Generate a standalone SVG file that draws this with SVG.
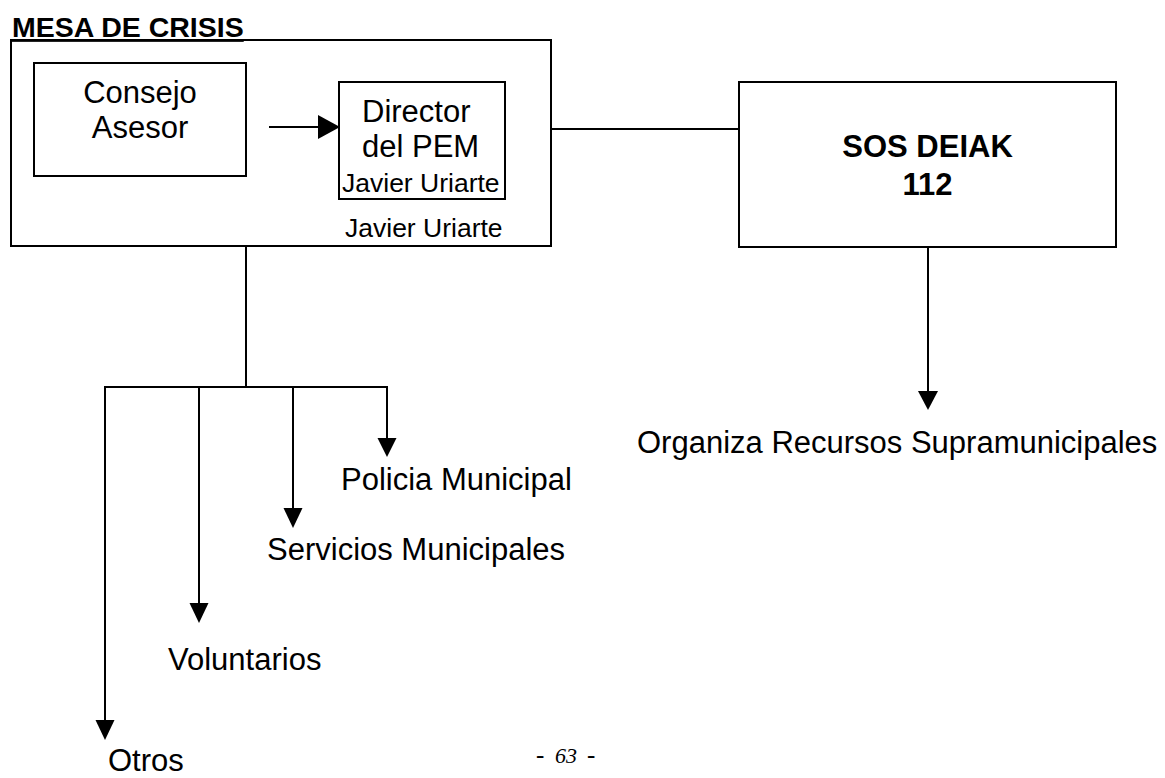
<svg xmlns="http://www.w3.org/2000/svg" width="1165" height="778" viewBox="0 0 1165 778">
<style>
.box{fill:none;stroke:#000;stroke-width:2}
.ln{fill:none;stroke:#000;stroke-width:2}
.t{font-family:"Liberation Sans",Arial,sans-serif;font-size:31px;fill:#000}
.s{font-family:"Liberation Sans",Arial,sans-serif;font-size:26.5px;fill:#000}
.b{font-family:"Liberation Sans",Arial,sans-serif;font-size:31px;font-weight:bold;fill:#000}
.ah{fill:#000;stroke:none}
.pg{font-family:"Liberation Serif","Times New Roman",serif;fill:#000}
</style>
<rect width="1165" height="778" fill="#fff"/>
<g id="mesa">
<rect class="box" x="11" y="40" width="540" height="206"/>
<text class="b" x="12" y="37" style="font-size:28.5px;text-decoration:underline">MESA DE CRISIS</text>
<text class="s" x="345" y="237">Javier Uriarte</text>
</g>
<g id="consejo">
<rect class="box" x="34" y="63" width="212" height="113"/>
<text class="t" x="140" y="103" text-anchor="middle">Consejo</text>
<text class="t" x="140" y="138" text-anchor="middle">Asesor</text>
</g>
<g id="director">
<rect class="box" x="339" y="82" width="166" height="117"/>
<text class="t" x="362" y="122">Director</text>
<text class="t" x="362" y="157">del PEM</text>
<text class="s" x="342" y="192">Javier Uriarte</text>
</g>
<g id="sos">
<rect class="box" x="739" y="82" width="377" height="165"/>
<text class="b" x="927.5" y="157" text-anchor="middle">SOS DEIAK</text>
<text class="b" x="927.5" y="195" text-anchor="middle">112</text>
</g>
<g id="organiza"><text class="t" x="637" y="453">Organiza Recursos Supramunicipales</text></g>
<g id="policia"><text class="t" x="341" y="490">Policia Municipal</text></g>
<g id="servicios"><text class="t" x="267" y="560">Servicios Municipales</text></g>
<g id="voluntarios"><text class="t" x="168" y="670">Voluntarios</text></g>
<g id="otros"><text class="t" x="108" y="771">Otros</text></g>
<g id="connectors">
<line class="ln" x1="269" y1="127" x2="320" y2="127"/>
<polygon class="ah" points="318,115 340,127 318,139"/>
<line class="ln" x1="551" y1="129" x2="739" y2="129"/>
<line class="ln" x1="928" y1="247" x2="928" y2="392"/>
<polygon class="ah" points="918,391 938,391 928,410"/>
<line class="ln" x1="246" y1="246" x2="246" y2="387"/>
<polyline class="ln" points="105,721 105,387 387,387 387,439"/>
<line class="ln" x1="199" y1="387" x2="199" y2="604"/>
<line class="ln" x1="293" y1="387" x2="293" y2="509"/>
<polygon class="ah" points="377.5,438 396.5,438 387,457"/>
<polygon class="ah" points="283.5,508 302.5,508 293,528"/>
<polygon class="ah" points="189.5,603 208.5,603 199,623"/>
<polygon class="ah" points="95.5,720 114.5,720 105,740"/>
</g>
<g id="page">
<text class="pg" x="536" y="763" style="font-size:25px">-</text>
<text class="pg" x="555" y="763" style="font-size:22px;font-style:italic">63</text>
<text class="pg" x="587" y="763" style="font-size:25px">-</text>
</g>
</svg>
